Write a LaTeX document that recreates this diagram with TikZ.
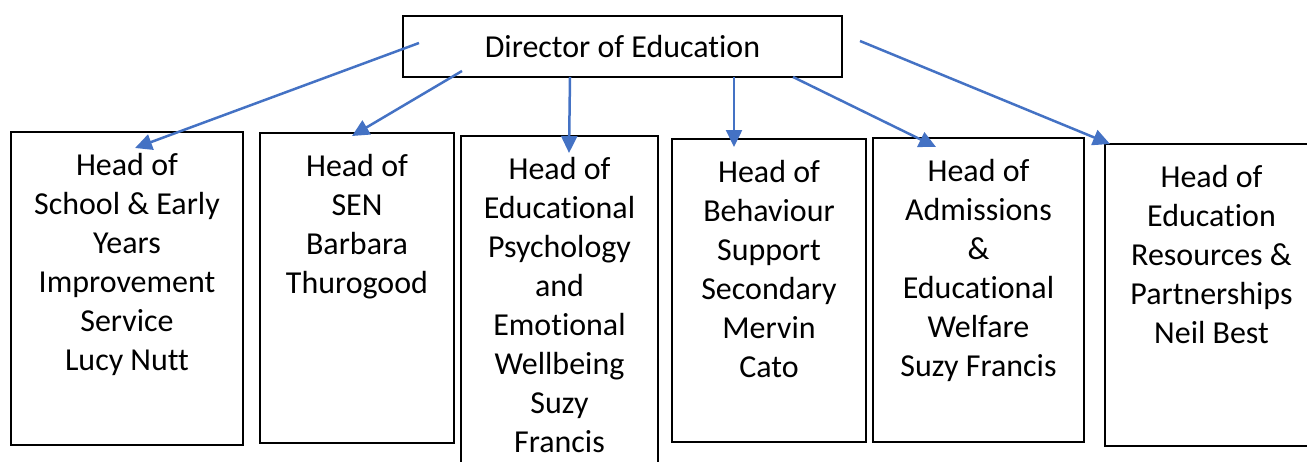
\documentclass[tikz,border=0pt]{standalone}
\usepackage{fontspec}
\setmainfont{Carlito}[Ligatures={NoCommon,NoRequired,NoContextual}]
\usetikzlibrary{arrows.meta,positioning}

\newcommand\orgfont{\fontsize{18.2pt}{22.2pt}\selectfont}
\definecolor{officeblue}{RGB}{68,114,196}

\begin{document}
\begin{tikzpicture}[x=0.02cm,y=-0.02cm,
		kasten/.style={draw,line width=0.045cm,outer sep=0pt,inner sep=0pt,anchor=north west},
		kastentext/.style={font=\orgfont,align=center,inner sep=0pt,anchor=north,execute at begin node=\strut},
		pfeil/.style={draw=officeblue,line width=0.05cm,-{Triangle[length=0.34cm,width=0.32cm]}}]
		
		\useasboundingbox (0,0) rectangle (1307,462);
		
		%director
		\node[kasten,font=\orgfont,minimum width=8.78cm,minimum height=1.22cm] (dir) at (403,16) {Director of Education};
		
		%heads
		\foreach \name/\x/\y/\breite/\hoehe in {b1/11/132/4.64/6.26, b2/260/133/3.88/6.20, b3/461/136/3.94/6.78,
			b4/672/139/3.88/6.06, b5/873/138/4.22/6.08, b6/1105/144/4.26/6.04}
		\node[kasten,minimum width=\breite cm,minimum height=\hoehe cm] (\name) at (\x,\y) {};
		
		\node[kastentext,below=0.42cm of b1.north] (t1) {Head of\\School \& Early\\Years\\Improvement\\Service\\Lucy Nutt};
		\node[kastentext,below=0.42cm of b2.north] (t2) {Head of\\SEN\\Barbara\\Thurogood};
		\node[kastentext,below=0.42cm of b3.north] (t3) {Head of\\Educational\\Psychology\\and\\Emotional\\Wellbeing\\Suzy\\Francis};
		\node[kastentext,below=0.42cm of b4.north] (t4) {Head of\\Behaviour\\Support\\Secondary\\Mervin\\Cato};
		\node[kastentext,below=0.42cm of b5.north] (t5) {Head of\\Admissions\\\&\\Educational\\Welfare\\Suzy Francis};
		\node[kastentext,below=0.42cm of b6.north] (t6) {Head of\\Education\\Resources \&\\Partnerships\\Neil Best};
		
		%arrows
		\foreach \i/\sx/\sy/\ex/\ey in {1/419/43/135/148, 2/462/71/352/136, 3/570/77/569/153,
			4/734/77/734/147, 5/793/77/936/147, 6/860/41/1110/144}
		{
			\coordinate (s\i) at (\sx,\sy);
			\coordinate (e\i) at (\ex,\ey);
			\draw[pfeil] (s\i) -- (e\i);
		}
		
\end{tikzpicture}
\end{document}
